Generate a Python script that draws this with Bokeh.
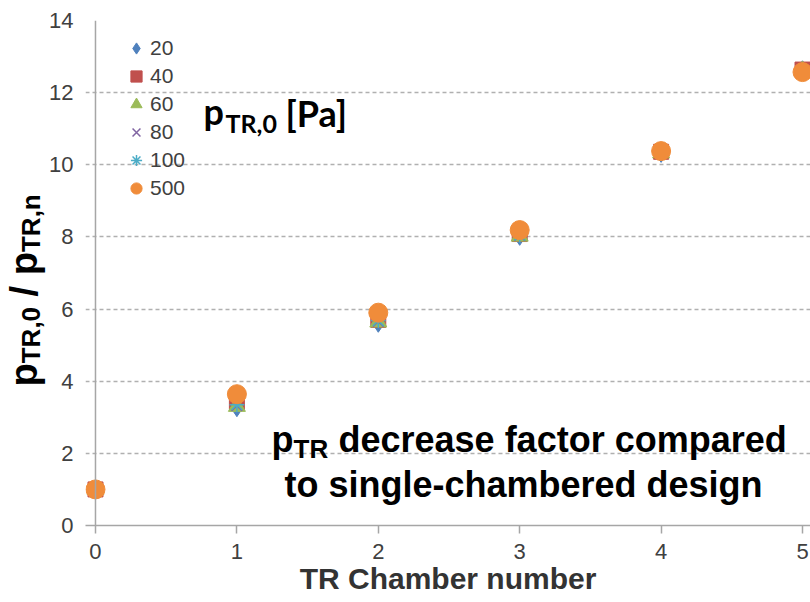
import math
from bokeh.plotting import figure
from bokeh.layouts import row
from bokeh.models import Label, Legend, LegendItem, Span, FixedTicker, Range1d
from bokeh.embed import file_html
from bokeh.resources import INLINE

# ---- data ----
chamber = [0, 1, 2, 3, 4, 5]
p20 = [1.0, 3.28, 5.62, 8.03, 10.33, 12.62]
p40 = [1.0, 3.42, 5.70, 8.08, 10.36, 12.64]
p60 = [1.0, 3.30, 5.64, 8.02, 10.33, 12.60]
p80 = [1.0, 3.32, 5.66, 8.04, 10.34, 12.61]
p100 = [1.0, 3.35, 5.68, 8.05, 10.35, 12.62]
p500 = [1.0, 3.64, 5.90, 8.19, 10.38, 12.57]
series_names = ["20", "40", "60", "80", "100", "500"]
x_ticks = [0, 1, 2, 3, 4, 5]
y_ticks = [0, 2, 4, 6, 8, 10, 12, 14]

# ---- geometry (page pixels) ----
LW = 46                 # width of the left strip holding the rotated y title
W, H = 810, 602
MW = W - LW
FL, FR, FT, FB = 84, 810, 20, 525  # frame edges in page px
X0_PX, X5_PX = 94, 802
unit = (X5_PX - X0_PX) / 5.0
x_start = -(X0_PX - FL) / unit
x_end = 5 + (FR - X5_PX) / unit

K_LIB = 0.35   # empirical baseline correction (fraction of font size)
K_LATO = 0.38

p = figure(width=MW, height=H, output_backend="svg", toolbar_location=None,
           x_range=Range1d(x_start, x_end), y_range=Range1d(0, 14),
           min_border_left=FL - LW, min_border_right=0, min_border_top=FT,
           min_border_bottom=H - FB)
p.outline_line_color = None

AX = "#A6A6A6"
TICKC = "#404040"

p.xaxis.ticker = FixedTicker(ticks=x_ticks)
p.xaxis.axis_line_color = AX
p.xaxis.axis_line_width = 1.5
p.xaxis.major_tick_line_color = AX
p.xaxis.major_tick_line_width = 1.5
p.xaxis.major_tick_out = 8
p.xaxis.major_tick_in = 0
p.xaxis.minor_tick_line_color = None
p.xaxis.major_label_text_font = "Liberation Sans"
p.xaxis.major_label_text_font_size = "22px"
p.xaxis.major_label_text_color = TICKC
p.xaxis.major_label_standoff = 10
p.xaxis.axis_label = "TR Chamber number"
p.xaxis.axis_label_text_font = "Liberation Sans"
p.xaxis.axis_label_text_font_style = "bold"
p.xaxis.axis_label_text_font_size = "30px"
p.xaxis.axis_label_text_color = "#333333"
p.xaxis.axis_label_standoff = 0

p.yaxis.ticker = FixedTicker(ticks=y_ticks)
p.yaxis.axis_line_color = None
p.yaxis.major_tick_line_color = None
p.yaxis.minor_tick_line_color = None
p.yaxis.major_tick_out = 0
p.yaxis.major_tick_in = 0
p.yaxis.major_label_text_font = "Liberation Sans"
p.yaxis.major_label_text_font_size = "22px"
p.yaxis.major_label_text_color = TICKC
p.yaxis.major_label_standoff = 12

p.xgrid.visible = False
p.ygrid.ticker = FixedTicker(ticks=y_ticks[1:])
p.ygrid.grid_line_color = "#B0B0B0"
p.ygrid.grid_line_dash = "4 3"
p.ygrid.grid_line_width = 1.6

p.add_layout(Span(location=0, dimension="height", line_color=AX, line_width=1.5))

# ---- series ----
r20 = p.scatter(chamber, p20, marker="diamond", size=19, fill_color="#4F81BD", line_color="#4F81BD")
r40 = p.scatter(chamber, p40, marker="square", size=15, fill_color="#C0504D", line_color="#C0504D")
r60 = p.scatter(chamber, p60, marker="triangle", size=17, fill_color="#9BBB59", line_color="#9BBB59")
r80 = p.scatter(chamber, p80, marker="x", size=15, line_color="#8064A2", line_width=1.5)
r100 = p.scatter(chamber, p100, marker="asterisk", size=15, line_color="#4BACC6", line_width=1.5)
r500 = p.scatter(chamber, p500, marker="circle", size=19, fill_color="#F08C3A", line_color="#F08C3A")
renderers = [r20, r40, r60, r80, r100, r500]

legend = Legend(items=[LegendItem(label=n, renderers=[r]) for n, r in zip(series_names, renderers)],
                location=(121 - FL, FB - 202), glyph_width=28, glyph_height=28, spacing=0,
                label_standoff=0, padding=0, margin=0,
                background_fill_alpha=0, border_line_color=None,
                label_text_font="Liberation Sans", label_text_font_size="21px",
                label_text_color=TICKC)
p.add_layout(legend)


def lab(fig, text, sx, sy, size, font="Liberation Sans", color="black", angle=0, align="left"):
    fig.add_layout(Label(x=sx, y=sy, x_units="screen", y_units="screen", text=text,
                         text_font=font, text_font_size=f"{size}px",
                         text_font_style="bold", text_color=color,
                         angle=angle, text_align=align, text_baseline="alphabetic"))


def mlab(text, px, py, size, font="Liberation Sans", k=K_LIB):
    # page coords -> main frame screen coords, with baseline correction
    lab(p, text, px - FL, FB - (py - k * size), size, font=font)


# ---- legend title annotation ----
mlab("p", 202, 124, 36, font="Lato", k=K_LATO)
mlab("TR,0", 224, 132, 25, font="Lato", k=K_LATO)
mlab("[Pa]", 284, 126, 36, font="Lato", k=K_LATO)

# ---- bottom annotation ----
mlab("p", 270, 452, 36)
mlab("TR", 292, 458, 26)
mlab("decrease factor compared", 337, 452, 36)
mlab("to single-chambered design", 283, 497, 36)

# ---- left strip with the rotated y title (its frame is aligned with the main frame) ----
L = figure(width=LW, height=H, output_backend="svg", toolbar_location=None,
           x_axis_location=None, y_axis_location=None,
           min_border_left=0, min_border_right=0, min_border_top=FT, min_border_bottom=H - FB)
L.outline_line_color = None
L.xgrid.visible = False
L.ygrid.visible = False

F, f = 38, 26
adv = {"p": 0.611, "T": 0.611, "R": 0.722, ",": 0.278, "0": 0.556, "n": 0.611, "/": 0.278, " ": 0.278}


def width(s, size):
    return sum(adv[c] for c in s) * size


def ylab(text, base_x, py, size):
    lab(L, text, base_x - K_LIB * size, FB - py, size, angle=math.pi / 2)


ypos = 386.0
ylab("p", 37, ypos, F)
ypos -= width("p", F)
ylab("TR,0", 40, ypos, f)
ypos -= width("TR,0", f) + width(" ", F)
ylab("/", 37, ypos, F)
ypos -= width("/ ", F)
ylab("p", 37, ypos, F)
ypos -= width("p", F)
ylab("TR,n", 40, ypos, f)

open("out.html", "w").write(file_html(row(L, p), INLINE))
